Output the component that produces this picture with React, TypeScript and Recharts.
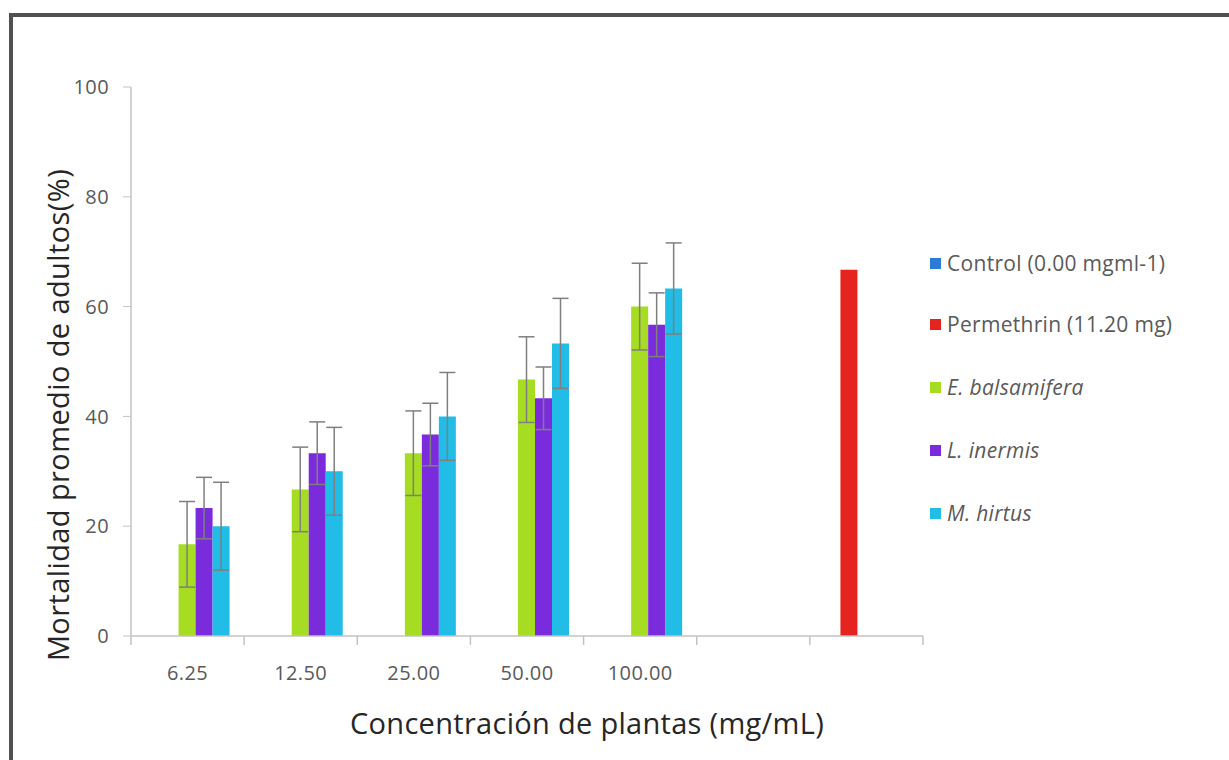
import React from 'react'
import { BarChart, Bar, XAxis, YAxis, ErrorBar } from 'recharts'

const categories = ['6.25', '12.50', '25.00', '50.00', '100.00', '', ' ']
const control = [0, 0, 0, 0, 0, null, null]
const permethrin = [null, null, null, null, null, null, 66.7]
const balsamifera = [16.7, 26.7, 33.3, 46.7, 60, null, null]
const inermis = [23.3, 33.3, 36.7, 43.3, 56.7, null, null]
const hirtus = [20, 30, 40, 53.3, 63.3, null, null]
const balsamiferaErr = [7.8, 7.7, 7.7, 7.8, 7.9, null, null]
const inermisErr = [5.6, 5.7, 5.7, 5.7, 5.8, null, null]
const hirtusErr = [8, 8, 8, 8.2, 8.3, null, null]
const yTicks = [0, 20, 40, 60, 80, 100]

const rows = categories.map((c, i) => ({
  cat: c,
  control: control[i],
  permethrin: permethrin[i],
  balsamifera: balsamifera[i],
  inermis: inermis[i],
  hirtus: hirtus[i],
  eB: balsamiferaErr[i],
  eL: inermisErr[i],
  eM: hirtusErr[i],
}))

const legend = [
  { name: 'Control (0.00 mgml-1)', color: '#2d7bd6', italic: false },
  { name: 'Permethrin (11.20 mg)', color: '#e5231f', italic: false },
  { name: 'E. balsamifera', color: '#a6dc22', italic: true },
  { name: 'L. inermis', color: '#7a2bdc', italic: true },
  { name: 'M. hirtus', color: '#22bde6', italic: true },
]

const FONT = '"Open Sans", sans-serif'
const AXIS = '#c3c3c3'

function CatTick(props: any) {
  const { x, y, payload, index } = props
  const half = payload.offset ?? 56.5
  return (
    <g>
      {index === 0 ? <line x1={x - half} x2={x - half} y1={y - 8} y2={y + 1} stroke={AXIS} strokeWidth={1.5} /> : null}
      <line x1={x + half} x2={x + half} y1={y - 8} y2={y + 1} stroke={AXIS} strokeWidth={1.5} />
      <text x={x} y={y + 36} textAnchor="middle" fontSize={20} fill="#595959" fontFamily={FONT} letterSpacing={0.4}>
        {payload.value}
      </text>
    </g>
  )
}

export default function App() {
  return (
    <div style={{ position: 'absolute', left: 0, top: 0, width: 1229, height: 760, background: '#fff', overflow: 'hidden' }}>
      <div style={{ position: 'absolute', left: 9, top: 13, width: 1260, height: 800, border: '4px solid #505050', boxSizing: 'border-box' }} />
      <div style={{ position: 'absolute', left: 0, top: 0 }}>
        <BarChart
          width={1229}
          height={760}
          data={rows}
          margin={{ top: 87, right: 306, left: 61, bottom: 94 }}
          barCategoryGap="12%"
          barGap={0}
        >
          <XAxis dataKey="cat" height={30} axisLine={{ stroke: AXIS, strokeWidth: 1.5 }} tickLine={false} tick={<CatTick />} interval={0} />
          <YAxis
            width={70}
            domain={[0, 100]}
            ticks={yTicks}
            axisLine={{ stroke: AXIS, strokeWidth: 1.5 }}
            tickLine={{ stroke: AXIS }}
            tickSize={8}
            tickMargin={14}
            tick={{ fontSize: 20, fill: '#595959', fontFamily: FONT, letterSpacing: 0.4 }}
          />
          <Bar dataKey="control" fill={legend[0].color} isAnimationActive={false} />
          <Bar dataKey="permethrin" fill={legend[1].color} isAnimationActive={false} />
          <Bar dataKey="balsamifera" fill={legend[2].color} isAnimationActive={false}>
            <ErrorBar dataKey="eB" width={8} stroke="#7f7f7f" strokeWidth={1.5} />
          </Bar>
          <Bar dataKey="inermis" fill={legend[3].color} isAnimationActive={false}>
            <ErrorBar dataKey="eL" width={8} stroke="#7f7f7f" strokeWidth={1.5} />
          </Bar>
          <Bar dataKey="hirtus" fill={legend[4].color} isAnimationActive={false}>
            <ErrorBar dataKey="eM" width={8} stroke="#7f7f7f" strokeWidth={1.5} />
          </Bar>
        </BarChart>
      </div>
      <div
        style={{
          position: 'absolute',
          left: 57,
          top: 415,
          transform: 'translate(-50%, -50%) rotate(-90deg)',
          whiteSpace: 'nowrap',
          fontFamily: FONT,
          fontSize: 29,
          letterSpacing: 0.4,
          color: '#262626',
        }}
      >
        Mortalidad promedio de adultos(%)
      </div>
      <div
        style={{
          position: 'absolute',
          left: 587,
          top: 722,
          transform: 'translate(-50%, -50%)',
          whiteSpace: 'nowrap',
          fontFamily: FONT,
          fontSize: 29,
          letterSpacing: 0.3,
          color: '#262626',
        }}
      >
        Concentración de plantas (mg/mL)
      </div>
      {legend.map((l, i) => (
        <div
          key={l.name}
          style={{
            position: 'absolute',
            left: 930,
            top: [263, 324, 387, 450, 513][i] - 15,
            height: 30,
            display: 'flex',
            alignItems: 'center',
            fontFamily: FONT,
            fontSize: 21,
            letterSpacing: 0.3,
            color: '#595959',
            fontStyle: l.italic ? 'italic' : 'normal',
            whiteSpace: 'nowrap',
          }}
        >
          <span style={{ display: 'inline-block', width: 11, height: 11, background: l.color, marginRight: 6 }} />
          {l.name}
        </div>
      ))}
    </div>
  )
}
